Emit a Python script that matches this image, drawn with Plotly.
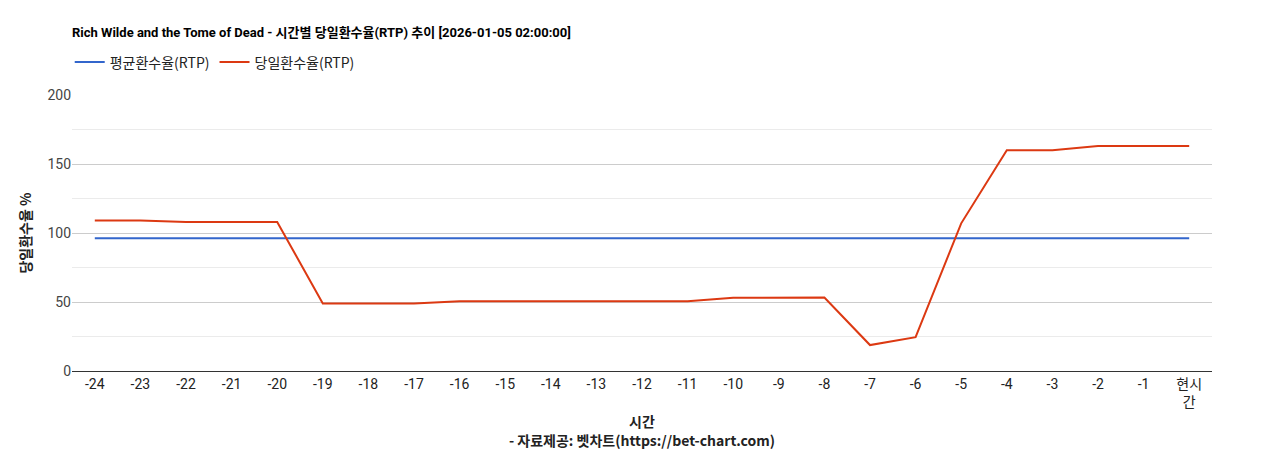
import plotly.graph_objects as go

categories = ["-24","-23","-22","-21","-20","-19","-18","-17","-16","-15","-14","-13","-12","-11","-10","-9","-8","-7","-6","-5","-4","-3","-2","-1","현시<br>간"]
daily_rtp = [109,109,108,108,108,49,49,49,50.5,50.5,50.5,50.5,50.5,50.5,53,53.3,53.3,18.8,24.5,107,160,160,163,163,163]
avg_rtp = [96.2]*25

fig = go.Figure()
fig.add_trace(go.Scatter(x=categories, y=avg_rtp, mode="lines", name="평균환수율(RTP)", line=dict(color="#3366cc", width=2)))
fig.add_trace(go.Scatter(x=categories, y=daily_rtp, mode="lines", name="당일환수율(RTP)", line=dict(color="#dc3912", width=2)))

fig.update_layout(
    width=1268, height=450, paper_bgcolor="white", plot_bgcolor="white",
    font=dict(family="Roboto, Noto Sans CJK KR, sans-serif", size=14, color="#222"),
    title=dict(text="<b>Rich Wilde and the Tome of Dead - 시간별 당일환수율(RTP) 추이 [2026-01-05 02:00:00]</b>",
               xref="paper", x=0, xanchor="left", yref="container", y=0.955, yanchor="top",
               font=dict(size=13, color="#000")),
    legend=dict(orientation="h", x=-0.002, y=1.06, xanchor="left", yanchor="bottom",
                font=dict(size=14, color="#222", family="Noto Sans CJK KR, Roboto, sans-serif")),
    margin=dict(l=64, r=64, t=87, b=87, autoexpand=False),
    showlegend=True,
)
fig.update_xaxes(title=dict(text="<b>시간</b><br><b>- 자료제공: 벳차트(https://bet-chart.com)</b>", font=dict(size=14, color="#222", family="Noto Sans CJK KR, Roboto, sans-serif"), standoff=8),
                 showgrid=False, showline=True, linecolor="#333", ticks="", tickfont=dict(size=14, color="#222"),
                 range=[-0.5, 24.5], automargin=False)
fig.update_yaxes(title=dict(text="<b>당일환수율 %</b>", font=dict(size=14, color="#222", family="Noto Sans CJK KR, Roboto, sans-serif"), standoff=12),
                 range=[0, 200], tickvals=[0,50,100,150,200], showgrid=True, gridcolor="#cccccc",
                 minor=dict(tickvals=[25,75,125,175], showgrid=True, gridcolor="#ebebeb"),
                 zeroline=False, tickfont=dict(size=14, color="#444"), automargin=False)
fig.write_html("out.html")
